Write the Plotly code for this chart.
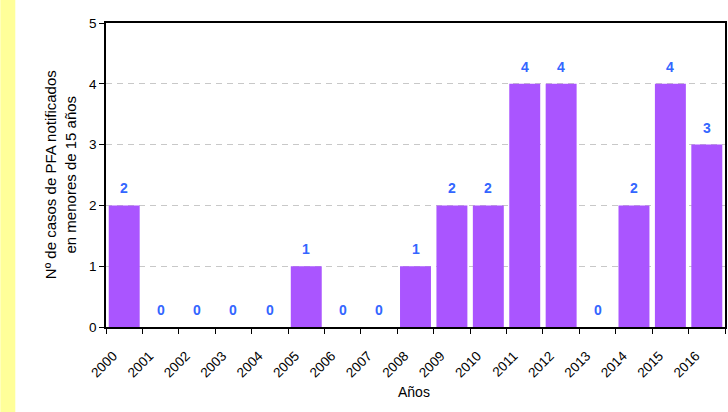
import plotly.graph_objects as go

years = ["2000", "2001", "2002", "2003", "2004", "2005", "2006", "2007", "2008",
         "2009", "2010", "2011", "2012", "2013", "2014", "2015", "2016"]
cases = [2, 0, 0, 0, 0, 1, 0, 0, 1, 2, 2, 4, 4, 0, 2, 4, 3]
y_ticks = [0, 1, 2, 3, 4, 5]

FONT = "Liberation Sans, Arial, sans-serif"
L, R, T, B = 106, 1, 23, 85
PW, PH = 728 - L - R, 412 - T - B

fig = go.Figure()
fig.add_trace(go.Bar(
    x=years, y=cases,
    marker=dict(color="#AA55FF", line=dict(width=0)),
    hoverinfo="x+y",
))

annotations = []
for i, v in enumerate(cases):
    annotations.append(dict(
        x=i, y=v, xref="x", yref="y", text=f"<b>{v}</b>", showarrow=False,
        yanchor="bottom", yshift=7,
        font=dict(family=FONT, size=14, color="#3366FF"),
    ))
annotations.append(dict(
    x=(60 - L) / PW, y=0.5, xref="paper", yref="paper",
    text="Nº de casos de PFA notificados<br>en menores de 15 años",
    textangle=-90, showarrow=False, xanchor="center", yanchor="middle",
    font=dict(family=FONT, size=15, color="black"),
))
annotations.append(dict(
    x=(415 - L) / PW, y=-(392 - (412 - B)) / PH, xref="paper", yref="paper",
    text="Años", showarrow=False, xanchor="center", yanchor="middle",
    font=dict(family=FONT, size=14, color="black"),
))

fig.update_layout(
    width=728, height=412,
    margin=dict(l=L, r=R, t=T, b=B),
    paper_bgcolor="white", plot_bgcolor="white",
    bargap=0.15,
    showlegend=False,
    font=dict(family=FONT, size=13, color="black"),
    annotations=annotations,
    shapes=[dict(type="rect", xref="paper", yref="paper", x0=-L / PW, x1=-(L - 15) / PW,
                 y0=-B / PH, y1=1 + T / PH, fillcolor="#FFFF99", line=dict(width=0),
                 layer="below")],
)
fig.update_xaxes(
    type="category", categoryorder="array", categoryarray=years,
    range=[-0.5, len(years) - 0.5],
    tickson="boundaries", tickangle=-45,
    ticks="outside", ticklen=5, tickcolor="black", tickwidth=1,
    showline=True, linecolor="black", linewidth=1.5, mirror=True,
    showgrid=False,
    ticklabelstandoff=14, ticklabelshift=-11,
    tickfont=dict(family=FONT, size=13.5, color="black"),
)
fig.update_yaxes(
    range=[0, 5], tickvals=y_ticks,
    ticks="outside", ticklen=5, tickcolor="black",
    showline=True, linecolor="black", linewidth=1.5, mirror=True,
    showgrid=True, gridcolor="#C8C8C8", griddash="6px,5px", gridwidth=1,
    zeroline=False,
    tickfont=dict(family=FONT, size=13.5, color="black"),
)

fig.write_html("out.html")
